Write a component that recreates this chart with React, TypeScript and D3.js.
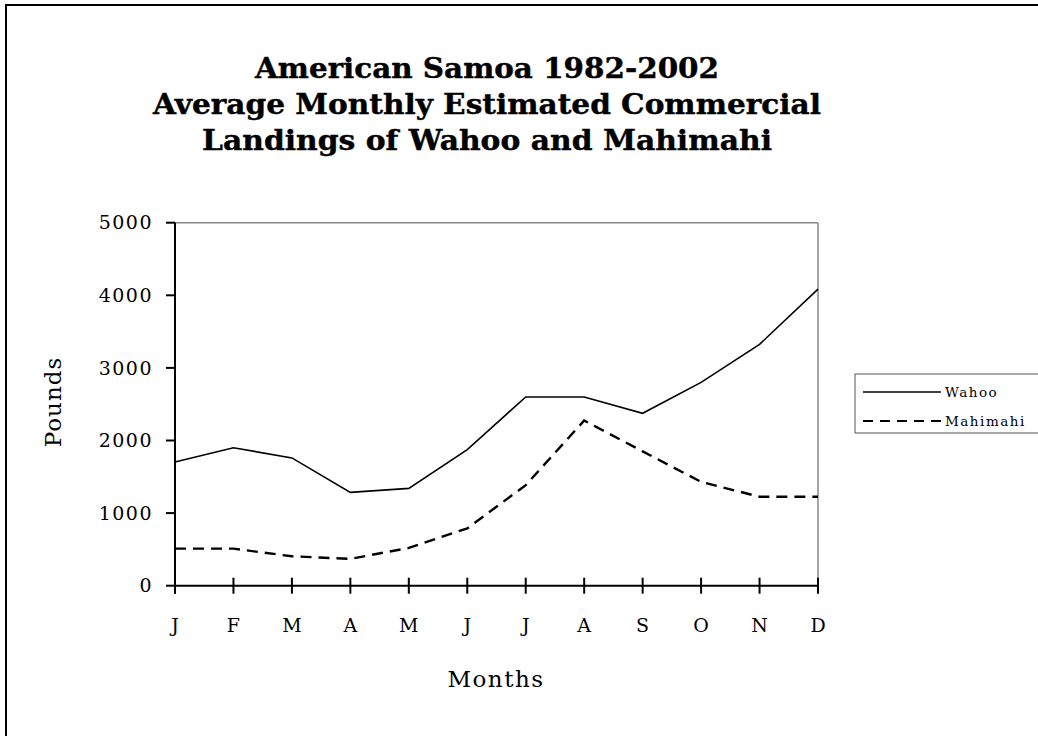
import React from "react";
import * as d3 from "d3";

const months = ["J", "F", "M", "A", "M", "J", "J", "A", "S", "O", "N", "D"];
const wahoo = [1705, 1900, 1760, 1285, 1340, 1875, 2600, 2600, 2375, 2800, 3325, 4085];
const mahimahi = [510, 510, 405, 370, 520, 790, 1385, 2275, 1850, 1430, 1225, 1225];
const yTicks = [0, 1000, 2000, 3000, 4000, 5000];
const titleLines = [
  "American Samoa 1982-2002",
  "Average Monthly Estimated Commercial",
  "Landings of Wahoo and Mahimahi",
];
const seriesNames = ["Wahoo", "Mahimahi"];

const W = 1038;
const H = 736;
const left = 175;
const right = 818;
const top = 222.7;
const bottom = 585.7;

export default function App() {
  const idx = months.map((_, i) => i);
  const x = d3.scaleLinear().domain([0, months.length - 1]).range([left, right]);
  const y = d3.scaleLinear().domain([0, 5000]).range([bottom, top]);
  const line = d3
    .line<number>()
    .x((_, i) => x(i))
    .y((d) => y(d));
  const font = "'DejaVu Serif', serif";
  const titleLen = [464, 668, 570];
  return (
    <svg
      width={W}
      height={H}
      style={{ position: "absolute", left: 0, top: 0, background: "#fff" }}
    >
      <rect x={0} y={0} width={W} height={H} fill="#fff" />
      <rect x={6} y={5} width={W + 20} height={H + 20} fill="none" stroke="#000" strokeWidth={2} />
      {titleLines.map((t, i) => (
        <text
          key={i}
          x={487}
          y={78 + i * 36}
          textAnchor="middle"
          fontFamily={font}
          fontWeight="bold"
          fontSize={27}
          stroke="#000"
          strokeWidth={0.4}
          textLength={titleLen[i]}
          lengthAdjust="spacingAndGlyphs"
        >
          {t}
        </text>
      ))}
      {/* plot border top/right */}
      <line x1={left} x2={right} y1={top} y2={top} stroke="#888" strokeWidth={1.5} />
      <line x1={right} x2={right} y1={top} y2={bottom} stroke="#888" strokeWidth={1.5} />
      {/* y axis */}
      <line x1={left} x2={left} y1={top} y2={bottom + 8} stroke="#000" strokeWidth={2} />
      {yTicks.map((t) => (
        <g key={t}>
          <line x1={left - 9} x2={left} y1={y(t)} y2={y(t)} stroke="#000" strokeWidth={2} />
          <text
            x={153}
            y={y(t)}
            dy="0.35em"
            textAnchor="end"
            fontFamily={font}
            fontSize={19}
            letterSpacing={1.5}
          >
            {t}
          </text>
        </g>
      ))}
      {/* x axis */}
      <line x1={left} x2={right} y1={bottom} y2={bottom} stroke="#000" strokeWidth={2} />
      {idx.map((i) => (
        <g key={i}>
          <line x1={x(i)} x2={x(i)} y1={bottom - 8} y2={bottom + 8} stroke="#000" strokeWidth={2} />
          <text x={x(i)} y={632} textAnchor="middle" fontFamily={font} fontSize={19}>
            {months[i]}
          </text>
        </g>
      ))}
      <text x={496} y={687} textAnchor="middle" fontFamily={font} fontSize={23} letterSpacing={1.5}>
        Months
      </text>
      <text
        transform={`translate(61,402) rotate(-90)`}
        textAnchor="middle"
        fontFamily={font}
        fontSize={23}
        letterSpacing={1}
      >
        Pounds
      </text>
      {/* series */}
      <path d={line(wahoo) || ""} fill="none" stroke="#000" strokeWidth={1.6} />
      <path
        d={line(mahimahi) || ""}
        fill="none"
        stroke="#000"
        strokeWidth={2.4}
        strokeDasharray="11 7"
      />
      {/* legend */}
      <rect x={855} y={374} width={200} height={59} fill="#fff" stroke="#555" strokeWidth={1} />
      {seriesNames.map((n, i) => (
        <g key={n}>
          <line
            x1={863}
            x2={941}
            y1={392 + i * 29}
            y2={392 + i * 29}
            stroke="#000"
            strokeWidth={i === 0 ? 1.6 : 2}
            strokeDasharray={i === 0 ? undefined : "10 7"}
          />
          <text x={945} y={392 + i * 29} dy="0.35em" fontFamily={font} fontSize={13.5} letterSpacing={1.5}>
            {n}
          </text>
        </g>
      ))}
    </svg>
  );
}
